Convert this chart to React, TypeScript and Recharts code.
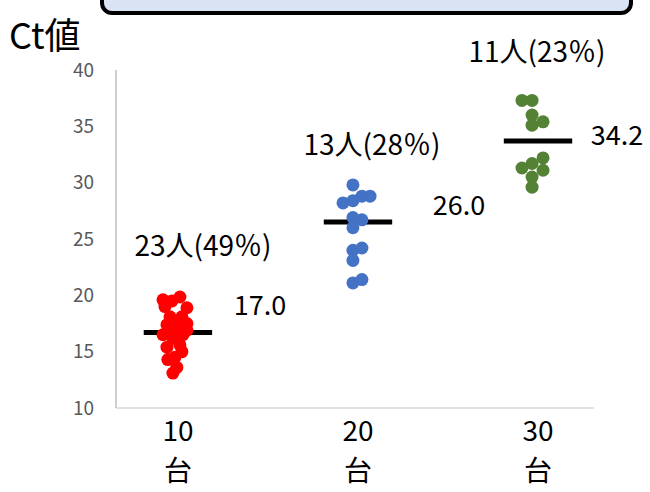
// Ct値の年代別分布（散布図 + 平均線）

import { ScatterChart, Scatter, XAxis, YAxis, ReferenceLine, ReferenceDot } from 'recharts';

const AGE_TICKS = ['10', '20', '30'];
const AGE_SUFFIX = '台';
const Y_TICKS = [10, 15, 20, 25, 30, 35, 40];

// 10台: 23人
const CT_10 = [19.85, 19.6, 19.5, 18.9, 19.0, 18.1, 18.1, 17.5, 17.4, 17.2, 16.5, 16.5, 16.2, 15.6, 15.0, 14.3, 14.5, 13.6, 13.1, 15.4, 16.9, 16.7, 17.6];
const JIT_10 = [0.011, -0.083, -0.033, 0.05, -0.072, -0.044, 0.022, 0.05, -0.061, -0.006, -0.083, 0.028, -0.028, 0.011, 0.022, -0.056, -0.017, -0.006, -0.028, -0.061, 0.05, -0.044, 0];
// 20台: 13人
const CT_20 = [29.8, 28.2, 28.4, 28.8, 28.8, 26.9, 26.7, 26.0, 24.0, 24.2, 23.1, 21.1, 21.4];
const JIT_20 = [-0.028, -0.083, -0.028, 0.022, 0.067, -0.028, 0.022, -0.028, -0.028, 0.022, -0.028, -0.028, 0.022];
// 30台: 11人
const CT_30 = [37.3, 37.3, 36.0, 35.1, 35.4, 32.2, 31.7, 31.1, 31.3, 30.5, 29.6];
const JIT_30 = [-0.089, -0.033, -0.033, -0.033, 0.028, 0.028, -0.033, 0.028, -0.089, -0.033, -0.033];

const MEAN_LINES = [16.7, 26.5, 33.7];
const MEAN_LABELS = ['17.0', '26.0', '34.2'];
const COUNT_LABELS = ['23人(49％)', '13人(28％)', '11人(23％)'];

const COLORS = ['#FF0000', '#4472C4', '#548235'];
const FONT = "'Noto Sans CJK JP', 'Noto Sans', sans-serif";

const toPoints = (ct: number[], jit: number[], idx: number) => ct.map((y, i) => ({ x: idx + jit[i], y }));
const GROUPS = [toPoints(CT_10, JIT_10, 0), toPoints(CT_20, JIT_20, 1), toPoints(CT_30, JIT_30, 2)];

// ラベル位置（データ座標）
const COUNT_POS = [{ x: 0.139, y: 24.37 }, { x: 1.078, y: 33.34 }, { x: 1.994, y: 41.6 }];
const MEAN_POS = [{ x: 0.456, y: 19.14 }, { x: 1.561, y: 28.0 }, { x: 2.439, y: 34.2 }];

function XTick(props: any) {
  const { x, y, payload } = props;
  return (
    <g transform={`translate(${x},${y})`}>
      <text textAnchor="middle" y={25} fontSize={28} fill="#000" fontFamily={FONT}>{AGE_TICKS[payload.value]}</text>
      <text textAnchor="middle" y={65} fontSize={28} fill="#000" fontFamily={FONT}>{AGE_SUFFIX}</text>
    </g>
  );
}

const dot = (color: string) => (p: any) => <circle cx={p.cx} cy={p.cy} r={6.5} fill={color} />;

export default function App() {
  return (
    <div style={{ position: 'absolute', left: 0, top: 0, width: 650, height: 492, overflow: 'hidden', background: '#fff' }}>
      <div style={{ position: 'absolute', left: 100, top: -30, width: 525, height: 37, border: '4px solid #000', borderRadius: 12, background: '#DAE3F3' }} />
      <div style={{ position: 'absolute', left: 9, top: 11, fontSize: 36, fontFamily: FONT, color: '#000', lineHeight: '44px' }}>Ct値</div>
      <ScatterChart width={650} height={492} margin={{ top: 70, right: 56, bottom: 24, left: 56 }} style={{ fontFamily: FONT }}>
        <XAxis type="number" dataKey="x" domain={[-0.344, 2.311]} ticks={[0, 1, 2]} allowDataOverflow interval={0}
          axisLine={{ stroke: '#D9D9D9', strokeWidth: 1.5 }} tickLine={false} tick={<XTick />} height={60} />
        <YAxis type="number" dataKey="y" domain={[10, 40]} ticks={Y_TICKS} width={60} interval={0}
          axisLine={{ stroke: '#BFBFBF', strokeWidth: 1.5 }} tickLine={false} tickMargin={16}
          tick={{ fill: '#595959', fontSize: 19, fontFamily: FONT }} />
        {GROUPS.map((g, i) => (
          <Scatter key={i} data={g} fill={COLORS[i]} shape={dot(COLORS[i])} isAnimationActive={false} />
        ))}
        {MEAN_LINES.map((m, i) => (
          <ReferenceLine key={'m' + i} segment={[{ x: i - 0.19, y: m }, { x: i + 0.19, y: m }]} stroke="#000" strokeWidth={5} ifOverflow="visible" />
        ))}
        {COUNT_LABELS.map((t, i) => (
          <ReferenceDot key={'c' + i} x={COUNT_POS[i].x} y={COUNT_POS[i].y} r={0} stroke="none" ifOverflow="visible"
            label={{ value: t, position: 'center', fontSize: 28, fill: '#000', fontFamily: FONT }} />
        ))}
        {MEAN_LABELS.map((t, i) => (
          <ReferenceDot key={'l' + i} x={MEAN_POS[i].x} y={MEAN_POS[i].y} r={0} stroke="none" ifOverflow="visible"
            label={{ value: t, position: 'center', fontSize: 27, fill: '#000', fontFamily: FONT }} />
        ))}
      </ScatterChart>
    </div>
  );
}
